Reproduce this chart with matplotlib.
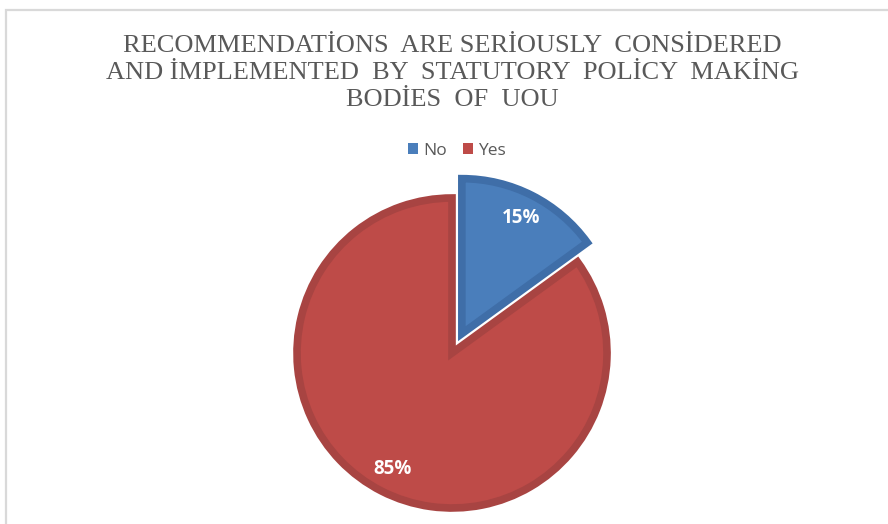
import matplotlib.pyplot as plt
from matplotlib.patches import Rectangle

labels = ['No', 'Yes']
values = [15, 85]
colors = ['#4a7ebb', '#be4b48']
edge_colors = ['#3f6ea8', '#a84442']
title = ('RECOMMENDATİONS  ARE SERİOUSLY  CONSİDERED\n'
         'AND İMPLEMENTED  BY  STATUTORY  POLİCY  MAKİNG\n'
         'BODİES  OF  UOU')

W, H = 888, 524
fig = plt.figure(figsize=(W / 100, H / 100), dpi=100)
fig.patch.set_facecolor('white')

# chart area border
fig.patches.append(Rectangle((6 / W, -0.1), 1.2, (H - 10) / H + 0.1,
                             transform=fig.transFigure, fill=False,
                             edgecolor='#d9d9d9', linewidth=1.6))

ax = fig.add_axes([0, 0, 1, 1])
cx, cy, r = 452, H - 353, 155
# explode is in data units here since radius != 1
wedges, texts, autotexts = ax.pie(
    values, labels=None, colors=colors, startangle=90, counterclock=False,
    explode=[0.14 * r, 0], center=(cx, cy), radius=r,
    autopct='%1.0f%%', pctdistance=0.84,
    wedgeprops=dict(linewidth=5.5, joinstyle='miter'),
    textprops=dict(color='white', fontsize=13.5, fontweight='bold',
                   family='Open Sans'))
for w, ec in zip(wedges, edge_colors):
    w.set_edgecolor(ec)
ax.set_xlim(0, W)
ax.set_ylim(0, H)
ax.set_aspect('equal')
ax.axis('off')

fig.text(452 / W, 1 - 73 / H, title, ha='center', va='center',
         family='Liberation Serif', fontsize=19, color='#595959',
         linespacing=1.3)

leg = fig.legend(wedges, labels, loc='center', bbox_to_anchor=(457 / W, 1 - 151 / H),
                 ncol=2, frameon=False, handlelength=0.6, handleheight=0.6,
                 handletextpad=0.3, columnspacing=0.9,
                 prop=dict(family='Open Sans', size=12.5))
for t in leg.get_texts():
    t.set_color('#595959')
for h in leg.legend_handles:
    h.set_linewidth(0)

fig.savefig('out.png', dpi=100)
